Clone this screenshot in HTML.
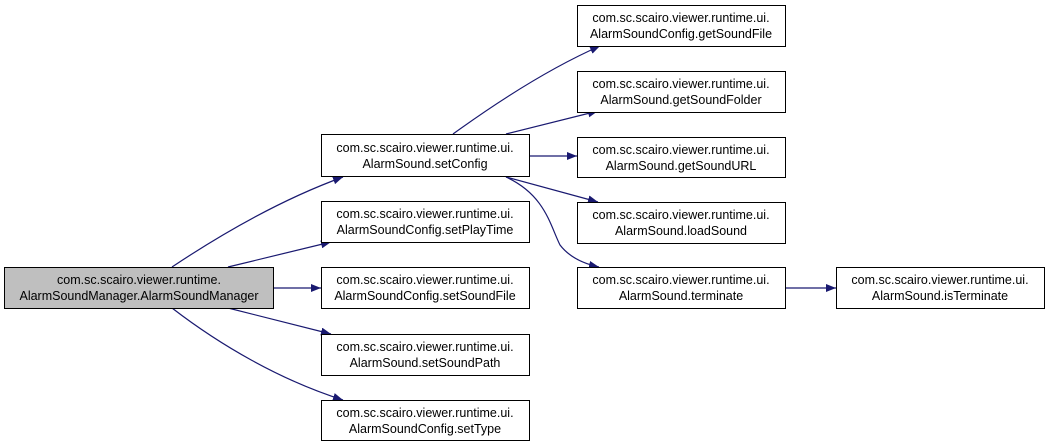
<!DOCTYPE html>
<html><head><meta charset="utf-8"><style>
html,body{margin:0;padding:0;background:#fff;}
svg{display:block}
text{font-family:"Liberation Sans",Arial,sans-serif;font-size:12.5px;fill:#000}
</style></head><body>
<svg width="1049" height="444" viewBox="0 0 1049 444" xmlns="http://www.w3.org/2000/svg">
<defs><marker id="a" markerWidth="10" markerHeight="8" refX="10" refY="4" orient="auto" markerUnits="userSpaceOnUse"><path d="M0,0 L10,4 L0,8 z" fill="#191970"/></marker></defs>
<g fill="none" stroke="#191970" stroke-width="1.2" marker-end="url(#a)">
<path d="M172,267 C220,235 280,200 343,177"/>
<path d="M228,267 L331,242"/>
<path d="M273,288 L321,288"/>
<path d="M228,308 L331,334"/>
<path d="M172,308 C220,345 280,380 343,400"/>
<path d="M453,134 C500,100 550,68 600,46"/>
<path d="M506,134 L598,111"/>
<path d="M529,156 L577,156"/>
<path d="M506,177 L598,202"/>
<path d="M506,177 C545,195 550,225 560,245 C570,258 585,264 599,267"/>
<path d="M785,288 L836,288"/>
</g>
<g stroke="#000" stroke-width="1">
<rect x="4.5" y="267.5" width="269" height="41" fill="#bfbfbf"/>
<g fill="#fff">
<rect x="321.5" y="134.5" width="208" height="42"/>
<rect x="321.5" y="201.5" width="208" height="41"/>
<rect x="321.5" y="267.5" width="208" height="41"/>
<rect x="321.5" y="334.5" width="208" height="41"/>
<rect x="321.5" y="400.5" width="208" height="40"/>
<rect x="577.5" y="5.5" width="208" height="41"/>
<rect x="577.5" y="71.5" width="208" height="41"/>
<rect x="577.5" y="137.5" width="208" height="40"/>
<rect x="577.5" y="202.5" width="208" height="41"/>
<rect x="577.5" y="267.5" width="208" height="41"/>
<rect x="836.5" y="267.5" width="208" height="41"/>
</g></g>
<g text-anchor="middle">
<text x="139" y="284">com.sc.scairo.viewer.runtime.</text><text x="139" y="300">AlarmSoundManager.AlarmSoundManager</text>
<text x="425" y="152">com.sc.scairo.viewer.runtime.ui.</text><text x="425" y="168">AlarmSound.setConfig</text>
<text x="425" y="218">com.sc.scairo.viewer.runtime.ui.</text><text x="425" y="234">AlarmSoundConfig.setPlayTime</text>
<text x="425" y="284">com.sc.scairo.viewer.runtime.ui.</text><text x="425" y="300">AlarmSoundConfig.setSoundFile</text>
<text x="425" y="351">com.sc.scairo.viewer.runtime.ui.</text><text x="425" y="367">AlarmSound.setSoundPath</text>
<text x="425" y="417">com.sc.scairo.viewer.runtime.ui.</text><text x="425" y="433">AlarmSoundConfig.setType</text>
<text x="681" y="22">com.sc.scairo.viewer.runtime.ui.</text><text x="681" y="38">AlarmSoundConfig.getSoundFile</text>
<text x="681" y="88">com.sc.scairo.viewer.runtime.ui.</text><text x="681" y="104">AlarmSound.getSoundFolder</text>
<text x="681" y="154">com.sc.scairo.viewer.runtime.ui.</text><text x="681" y="170">AlarmSound.getSoundURL</text>
<text x="681" y="219">com.sc.scairo.viewer.runtime.ui.</text><text x="681" y="235">AlarmSound.loadSound</text>
<text x="681" y="284">com.sc.scairo.viewer.runtime.ui.</text><text x="681" y="300">AlarmSound.terminate</text>
<text x="940" y="284">com.sc.scairo.viewer.runtime.ui.</text><text x="940" y="300">AlarmSound.isTerminate</text>
</g>
</svg>
</body></html>
